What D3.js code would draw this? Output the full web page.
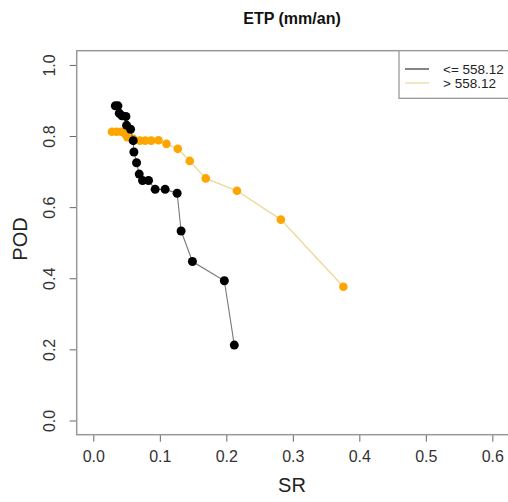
<!DOCTYPE html>
<html>
<head>
<meta charset="utf-8">
<script src="https://cdn.jsdelivr.net/npm/d3@7"></script>
<style>
  html, body { margin: 0; padding: 0; background: #fff; }
  svg { display: block; font-family: "Liberation Sans", Arial, sans-serif; }
</style>
</head>
<body>
<svg id="chart" width="508" height="502"></svg>
<script>
// ---- data ----
const title = "ETP (mm/an)";
const xLabel = "SR";
const yLabel = "POD";
const seriesNames = ["<= 558.12", "> 558.12"];
const xTicks = [0, 0.1, 0.2, 0.3, 0.4, 0.5, 0.6];
const yTicks = [0, 0.2, 0.4, 0.6, 0.8, 1.0];

const srLow  = [0.033, 0.037, 0.039, 0.043, 0.049, 0.050, 0.056, 0.060, 0.061, 0.065, 0.069, 0.074, 0.083, 0.093, 0.108, 0.126, 0.132, 0.149, 0.197, 0.212];
const podLow = [0.885, 0.885, 0.864, 0.857, 0.855, 0.830, 0.819, 0.787, 0.755, 0.725, 0.693, 0.675, 0.675, 0.650, 0.650, 0.639, 0.533, 0.447, 0.393, 0.212];

const srHigh  = [0.028, 0.035, 0.042, 0.048, 0.051, 0.060, 0.070, 0.078, 0.087, 0.098, 0.110, 0.127, 0.145, 0.169, 0.216, 0.282, 0.376];
const podHigh = [0.812, 0.812, 0.812, 0.806, 0.797, 0.792, 0.787, 0.787, 0.787, 0.788, 0.778, 0.764, 0.730, 0.681, 0.646, 0.565, 0.376];

// ---- layout ----
const svg = d3.select("#chart");
const box = { left: 76.7, top: 50.7, right: 525.6, bottom: 434.7 };
const x = d3.scaleLinear().domain([-0.025, 0.65]).range([box.left, box.right]);
const y = d3.scaleLinear().domain([-0.04, 1.04]).range([box.bottom, box.top]);

// title
svg.append("text")
  .attr("x", 292).attr("y", 24)
  .attr("text-anchor", "middle")
  .attr("font-weight", "bold")
  .attr("font-size", 16)
  .attr("fill", "#111")
  .text(title);

// axes
const xAxis = svg.append("g")
  .attr("transform", `translate(0,${box.bottom})`)
  .call(d3.axisBottom(x).tickValues(xTicks).tickFormat(d3.format(".1f")).tickSize(7).tickPadding(9));
xAxis.select(".domain").remove();
xAxis.selectAll("line").attr("stroke", "#666");
xAxis.selectAll("text").attr("font-size", 16).attr("fill", "#333")
  .attr("font-family", "Liberation Sans, Arial, sans-serif");

const yAxis = svg.append("g")
  .attr("transform", `translate(${box.left},0)`)
  .call(d3.axisLeft(y).tickValues(yTicks).tickFormat(d3.format(".1f")).tickSize(7));
yAxis.select(".domain").remove();
yAxis.selectAll("line").attr("stroke", "#666");
yAxis.selectAll("text")
  .attr("font-size", 16).attr("fill", "#333")
  .attr("font-family", "Liberation Sans, Arial, sans-serif")
  .attr("x", null).attr("dy", null)
  .attr("text-anchor", "middle")
  .attr("transform", "translate(-27,0) rotate(-90)")
  .attr("dominant-baseline", "central");

// box
svg.append("rect")
  .attr("x", box.left).attr("y", box.top)
  .attr("width", box.right - box.left).attr("height", box.bottom - box.top)
  .attr("fill", "none").attr("stroke", "#999").attr("stroke-width", 1.5);

// axis labels
svg.append("text")
  .attr("x", 292).attr("y", 492)
  .attr("text-anchor", "middle")
  .attr("font-size", 20).attr("fill", "#222")
  .text(xLabel);
svg.append("text")
  .attr("transform", "translate(27,239) rotate(-90)")
  .attr("text-anchor", "middle")
  .attr("font-size", 20).attr("fill", "#222")
  .text(yLabel);

// series
const line = d3.line().x(d => x(d[0])).y(d => y(d[1]));
const highPts = srHigh.map((v, i) => [v, podHigh[i]]);
const lowPts = srLow.map((v, i) => [v, podLow[i]]);

const highLine = "#e8d99a", highPt = "#ffa500";
const lowLine = "#777", lowPt = "#000";

svg.append("path").datum(highPts).attr("d", line)
  .attr("fill", "none").attr("stroke", highLine).attr("stroke-width", 1.3);
svg.append("g").selectAll("circle").data(highPts).join("circle")
  .attr("cx", d => x(d[0])).attr("cy", d => y(d[1])).attr("r", 4.3).attr("fill", highPt);

svg.append("path").datum(lowPts).attr("d", line)
  .attr("fill", "none").attr("stroke", lowLine).attr("stroke-width", 1.1);
svg.append("g").selectAll("circle").data(lowPts).join("circle")
  .attr("cx", d => x(d[0])).attr("cy", d => y(d[1])).attr("r", 4.5).attr("fill", lowPt);

// legend
const lg = svg.append("g");
lg.append("rect")
  .attr("x", 399).attr("y", box.top)
  .attr("width", box.right - 399).attr("height", 47.6)
  .attr("fill", "#fff").attr("stroke", "#999").attr("stroke-width", 1.3);
const legendColors = ["#333", highLine];
seriesNames.forEach((name, i) => {
  const ly = 69 + i * 14;
  lg.append("line").attr("x1", 405).attr("x2", 429).attr("y1", ly).attr("y2", ly)
    .attr("stroke", legendColors[i]).attr("stroke-width", 1.2);
  lg.append("text").attr("x", 443).attr("y", ly).attr("dy", "0.35em")
    .attr("font-size", 13.5).attr("fill", "#222").text(name);
});
</script>
</body>
</html>
